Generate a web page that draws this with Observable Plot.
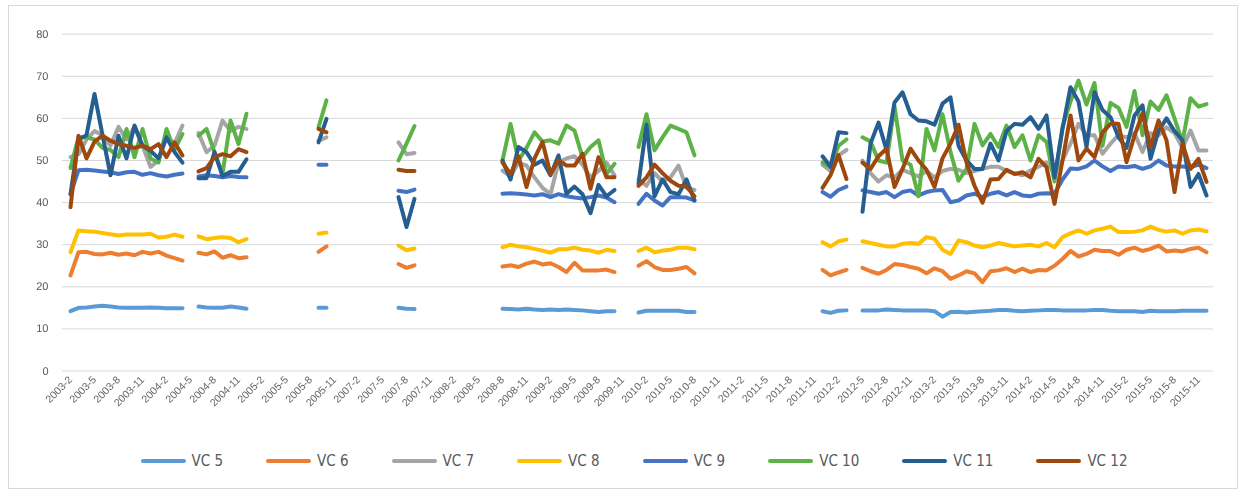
<!DOCTYPE html>
<html>
<head>
<meta charset="utf-8">
<script src="https://cdn.jsdelivr.net/npm/d3@7"></script>
<script src="https://cdn.jsdelivr.net/npm/@observablehq/plot@0.6"></script>
<style>
  html, body { margin: 0; padding: 0; background: #fff; }
  #wrap { position: relative; width: 1246px; height: 494px; overflow: hidden;
          font-family: "Liberation Sans Narrow", "DejaVu Sans Condensed", "Liberation Sans", Arial, sans-serif; }
  #frame { position: absolute; left: 8px; top: 5px; width: 1230px; height: 484px; border: 1px solid #d9d9d9; box-sizing: border-box; }
  #chart { position: absolute; left: 0; top: 0; }
  #chart svg text { text-rendering: geometricPrecision; }
  #chart svg g[aria-label$="tick label"] { filter: grayscale(100%); }
  #legend { position: absolute; top: 452px; left: 11px; width: 1246px; display: flex; justify-content: center; align-items: center; gap: 43px; }
  .item { display: flex; align-items: center; gap: 6px; font-size: 15px; color: #595959; }
  .sw { width: 45px; height: 4.5px; border-radius: 2.5px; }
</style>
</head>
<body>
<div id="wrap">
  <div id="frame"></div>
  <div id="chart"></div>
  <div id="legend"></div>
</div>
<script>
// ---- categories (months; 2006 absent in the source) ----
const years = [2003, 2004, 2005, 2007, 2008, 2009, 2010, 2011, 2012, 2013, 2014, 2015];
const categories = [];
for (const y of years) for (let m = 1; m <= 12; m++) if (!(y === 2003 && m === 1)) categories.push(`${y}-${m}`);

// ---- x tick labels (every third month) ----
const tickLabels = [
  "2003-2","2003-5","2003-8","2003-11","2004-2","2004-5","2004-8","2004-11",
  "2005-2","2005-5","2005-8","2005-11","2007-2","2007-5","2007-8","2007-11",
  "2008-2","2008-5","2008-8","2008-11","2009-2","2009-5","2009-8","2009-11",
  "2010-2","2010-5","2010-8","2010-11","2011-2","2011-5","2011-8","2011-11",
  "2012-2","2012-5","2012-8","2012-11","2013-2","2013-5","2013-8","2013-11",
  "2014-2","2014-5","2014-8","2014-11","2015-2","2015-5","2015-8","2015-11"
];
const yTicks = [0, 10, 20, 30, 40, 50, 60, 70, 80];

// ---- first month of each continuous data run ----
const segmentStarts = ["2003-2", "2004-6", "2005-9", "2007-7", "2008-8", "2010-1", "2011-12", "2012-5"];

// ---- series names & colours ----
const seriesNames = ["VC 5", "VC 6", "VC 7", "VC 8", "VC 9", "VC 10", "VC 11", "VC 12"];
const seriesColors = ["#5B9BD5", "#ED7D31", "#A5A5A5", "#FFC000", "#4472C4", "#5DB247", "#255E91", "#9E480E"];

// ---- series values, one array per data run ----
const vc5 = [
  [14.2,15.0,15.1,15.3,15.5,15.3,15.1,15.0,15.0,15.0,15.1,15.0,14.9,14.9,14.9],
  [15.3,15.1,15.0,15.0,15.3,15.1,14.8],
  [15.0,15.0],
  [15.0,14.8,14.7],
  [14.8,14.7,14.6,14.8,14.6,14.5,14.6,14.5,14.6,14.5,14.4,14.2,14.0,14.2,14.2],
  [13.9,14.3,14.3,14.3,14.3,14.3,14.0,14.0],
  [14.2,13.8,14.3,14.4],
  [14.4,14.4,14.4,14.6,14.5,14.4,14.4,14.4,14.4,14.2,12.9,14.0,14.1,13.9,14.1,14.2,14.3,14.5,14.5,14.3,
   14.2,14.3,14.4,14.5,14.5,14.4,14.4,14.4,14.4,14.5,14.5,14.3,14.2,14.2,14.2,14.0,14.3,14.2,14.2,14.2,
   14.3,14.3,14.3,14.3]
];
const vc6 = [
  [22.7,28.2,28.3,27.8,27.7,28.1,27.6,27.9,27.5,28.3,27.9,28.3,27.4,26.8,26.2],
  [28.1,27.7,28.4,26.9,27.5,26.8,27.0],
  [28.3,29.6],
  [25.4,24.5,25.1],
  [24.8,25.1,24.7,25.5,26.0,25.3,25.6,24.7,23.5,25.7,23.9,23.9,23.9,24.1,23.5],
  [25.0,26.1,24.7,24.0,24.0,24.3,24.7,23.2],
  [24.0,22.7,23.4,24.0],
  [24.5,23.7,23.1,24.0,25.4,25.2,24.7,24.3,23.2,24.4,23.7,21.9,22.7,23.7,23.2,21.1,23.7,23.9,24.4,23.5,
   24.3,23.5,24.0,23.9,25.0,26.6,28.5,27.2,27.8,28.8,28.5,28.5,27.6,28.8,29.3,28.5,29.0,29.8,28.4,28.6,
   28.4,29.0,29.3,28.2]
];
const vc7 = [
  [50.8,51.5,55.0,57.0,56.0,53.5,58.0,55.0,58.0,53.5,48.5,50.0,55.5,54.0,58.3],
  [56.5,52.0,53.5,59.5,57.0,58.0,57.5],
  [54.7,55.5],
  [54.3,51.5,51.8],
  [47.6,46.2,49.5,48.8,46.0,43.5,42.0,49.5,50.5,51.0,49.0,46.0,47.5,49.5,46.5],
  [45.5,44.0,47.0,45.0,46.0,48.8,43.5,43.0],
  [49.0,47.5,51.2,52.5],
  [50.0,47.0,45.0,46.5,46.0,47.8,47.0,46.2,47.5,46.0,47.5,48.0,47.8,47.0,47.5,48.0,48.5,48.5,47.5,47.0,
   46.5,47.6,48.5,49.5,47.0,50.0,54.0,58.7,56.0,56.0,51.6,54.0,56.0,55.5,56.5,52.0,56.5,56.0,57.9,56.5,
   53.0,57.1,52.4,52.4]
];
const vc8 = [
  [28.2,33.4,33.2,33.1,32.8,32.5,32.2,32.4,32.4,32.4,32.6,31.7,31.9,32.4,31.9],
  [32.0,31.3,31.6,31.8,31.6,30.6,31.3],
  [32.6,32.9],
  [29.8,28.7,29.1],
  [29.4,30.0,29.6,29.4,29.0,28.6,28.1,28.9,28.9,29.3,28.8,28.6,28.1,28.8,28.5],
  [28.5,29.3,28.2,28.6,28.8,29.3,29.3,28.9],
  [30.6,29.6,30.8,31.2],
  [30.8,30.4,30.0,29.6,29.6,30.2,30.4,30.2,31.8,31.4,28.8,27.8,31.0,30.6,29.8,29.4,29.8,30.4,30.0,29.6,
   29.8,30.0,29.6,30.4,29.4,31.8,32.7,33.4,32.6,33.4,33.8,34.3,33.0,33.0,33.1,33.4,34.3,33.5,33.1,33.4,
   32.6,33.4,33.6,33.2]
];
const vc9 = [
  [42.0,47.7,47.8,47.6,47.4,47.2,46.8,47.2,47.3,46.6,47.0,46.5,46.2,46.6,46.9],
  [46.2,46.5,46.3,46.0,46.3,46.1,46.0],
  [49.0,49.0],
  [42.8,42.5,43.1],
  [42.1,42.2,42.1,41.9,41.7,42.0,41.3,42.0,41.5,41.2,41.0,41.3,41.7,41.2,40.1],
  [39.7,42.1,40.5,39.3,41.3,41.3,41.2,40.5],
  [42.5,41.4,43.0,43.8],
  [42.9,42.5,42.1,42.5,41.3,42.5,42.9,41.7,42.5,42.9,43.0,40.1,40.5,41.7,42.1,41.3,42.1,42.5,41.7,42.5,
   41.7,41.5,42.1,42.2,42.1,45.5,48.1,48.0,48.6,50.0,48.6,47.5,48.6,48.4,48.7,48.0,48.6,50.0,48.8,48.6,
   48.6,48.4,49.0,48.2]
];
const vc10 = [
  [48.2,55.5,55.5,55.0,53.0,52.5,50.8,57.5,50.8,57.5,50.5,49.5,57.5,52.5,56.3],
  [55.9,57.5,52.0,46.8,59.5,53.9,61.1],
  [57.9,64.3],
  [50.0,54.0,58.2],
  [50.0,58.7,50.0,53.0,56.7,54.5,54.8,54.0,58.3,57.1,50.8,53.2,54.8,46.8,49.2],
  [53.2,61.0,52.4,55.5,58.3,57.5,56.7,51.2],
  [49.5,48.5,53.5,55.0],
  [55.5,54.5,50.0,49.5,62.9,50.0,49.0,41.5,57.5,52.4,61.0,52.0,45.2,48.0,58.7,53.6,56.3,53.2,58.3,53.2,
   56.0,50.0,56.0,54.4,45.0,58.0,64.0,69.0,63.3,68.4,53.5,63.7,62.5,58.0,66.5,56.0,64.0,62.0,65.5,60.0,
   54.4,64.8,62.8,63.4]
];
const vc11 = [
  [42.0,55.0,56.0,65.8,56.0,46.5,55.9,50.5,58.3,53.5,52.3,50.5,55.5,52.0,49.5],
  [45.8,45.8,52.0,46.3,47.3,47.3,50.3],
  [54.3,59.9],
  [41.3,34.2,40.9],
  [50.0,45.5,53.2,52.0,49.0,50.0,46.5,51.2,42.1,43.8,42.0,37.5,44.2,41.5,43.0],
  [44.5,58.5,41.5,45.5,42.5,42.0,45.5,40.5],
  [51.0,48.5,56.7,56.5],
  [37.8,54.0,59.0,52.5,63.8,66.2,61.0,59.5,59.3,58.5,63.5,65.0,53.5,50.0,48.0,48.0,54.0,50.0,57.0,58.7,
   58.5,60.3,57.5,60.7,46.0,57.5,67.4,64.0,53.2,66.2,62.0,60.3,55.5,53.0,60.7,63.1,50.4,57.0,60.0,57.0,
   54.8,43.7,46.8,41.7]
];
const vc12 = [
  [38.9,55.9,50.5,54.5,55.9,54.7,53.9,53.5,53.0,53.5,52.7,53.9,50.8,54.3,51.2],
  [47.4,48.2,50.8,51.5,51.0,52.7,52.0],
  [57.5,56.7],
  [47.8,47.5,47.5],
  [49.5,46.8,51.0,43.7,50.5,54.4,46.8,50.0,48.8,48.8,51.6,43.3,50.8,46.0,46.0],
  [44.0,46.0,49.0,47.0,45.2,44.0,43.8,41.5],
  [43.5,46.5,51.3,45.6],
  [49.5,48.0,51.0,52.8,43.7,48.0,52.8,50.0,47.8,43.7,50.5,54.0,58.5,49.5,44.0,40.0,45.5,45.6,47.8,46.8,
   47.2,46.0,50.4,48.4,39.7,50.0,60.7,50.0,52.8,50.8,56.7,58.7,58.7,49.6,55.9,61.1,53.2,59.5,54.8,42.5,
   54.0,48.0,50.4,44.9]
];

const seriesValues = [vc5, vc6, vc7, vc8, vc9, vc10, vc11, vc12];

// ---- build long-format rows ----
const rows = [];
seriesValues.forEach((segs, s) => {
  segs.forEach((vals, g) => {
    const start = categories.indexOf(segmentStarts[g]);
    vals.forEach((v, j) => rows.push({cat: categories[start + j], value: v, series: seriesNames[s], key: seriesNames[s] + "|" + g}));
  });
});

const fontFam = '"Liberation Sans", Arial, sans-serif';
const chart = Plot.plot({
  width: 1246,
  height: 430,
  marginLeft: 62,
  marginRight: 33,
  marginTop: 33.7,
  marginBottom: 59.5,
  style: {fontFamily: fontFam, background: "transparent", color: "#595959"},
  x: {type: "point", domain: categories, padding: 0.5},
  y: {domain: [0, 80]},
  color: {domain: seriesNames, range: seriesColors},
  marks: [
    Plot.gridY(yTicks, {stroke: "#d9d9d9", strokeOpacity: 1, strokeWidth: 1}),
    Plot.axisY(yTicks, {tickSize: 0, tickPadding: 14, fontSize: 11, fill: "#595959", label: null}),
    Plot.axisX(tickLabels, {tickSize: 0, tickPadding: 7, tickRotate: -45, fontSize: 10.5, fill: "#666666", label: null}),
    Plot.line(rows, {x: "cat", y: "value", z: "key", stroke: "series", strokeWidth: 4, strokeLinecap: "round", strokeLinejoin: "round"})
  ]
});
document.getElementById("chart").appendChild(chart);

// ---- legend ----
const legend = document.getElementById("legend");
seriesNames.forEach((n, i) => {
  const it = document.createElement("div");
  it.className = "item";
  const sw = document.createElement("span");
  sw.className = "sw";
  sw.style.background = seriesColors[i];
  const tx = document.createElement("span");
  tx.textContent = n;
  it.appendChild(sw); it.appendChild(tx);
  legend.appendChild(it);
});
</script>
</body>
</html>
